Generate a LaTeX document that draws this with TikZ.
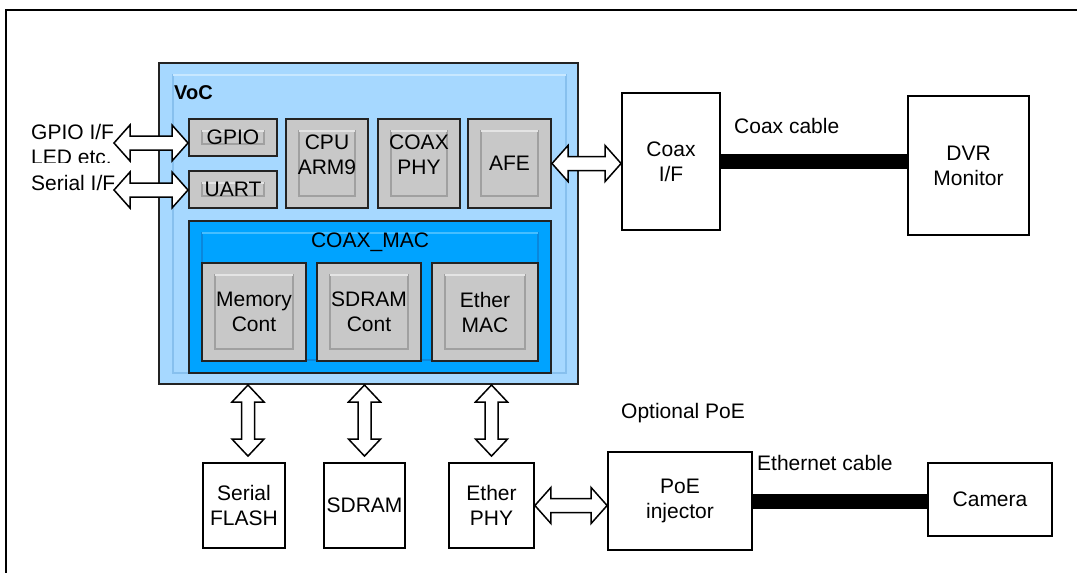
\documentclass[tikz,border=0pt]{standalone}
\usepackage{fontspec}
\setmainfont{Liberation Sans}
\usetikzlibrary{calc}
\definecolor{vocfill}{RGB}{166,216,255}
\definecolor{vocbev}{RGB}{135,192,238}
\definecolor{vochi}{RGB}{200,232,255}
\definecolor{macfill}{RGB}{0,163,255}
\definecolor{macbev}{RGB}{10,135,220}
\definecolor{machi}{RGB}{70,190,255}
\definecolor{gfill}{RGB}{200,200,200}
\definecolor{gbev}{RGB}{160,160,160}
\definecolor{ghi}{RGB}{228,228,228}
\definecolor{bord}{RGB}{35,35,35}
\newcommand\hdarrow[2]{\draw[blockarrow] let \p1=#1, \p2=#2 in
 (\x1,\y1) -- (\x1+16pt,\y1+18pt) -- (\x1+16pt,\y1+7pt) -- (\x2-16pt,\y1+7pt) -- (\x2-16pt,\y1+18pt) -- (\x2,\y1)
 -- (\x2-16pt,\y1-18pt) -- (\x2-16pt,\y1-7pt) -- (\x1+16pt,\y1-7pt) -- (\x1+16pt,\y1-18pt) -- cycle;}
\newcommand\vdarrow[2]{\draw[blockarrow] let \p1=#1, \p2=#2 in
 (\x1,\y1) -- (\x1+16pt,\y1-17pt) -- (\x1+6.5pt,\y1-17pt) -- (\x1+6.5pt,\y2+17pt) -- (\x1+16pt,\y2+17pt) -- (\x1,\y2)
 -- (\x1-16pt,\y2+17pt) -- (\x1-6.5pt,\y2+17pt) -- (\x1-6.5pt,\y1-17pt) -- (\x1-16pt,\y1-17pt) -- cycle;}
\begin{document}
\begin{tikzpicture}[x=1pt,y=-1pt,
  txt/.style={font=\fontsize{21}{25}\selectfont, align=center, inner sep=0pt},
  box/.style={txt, draw=black, line width=1.8, fill=white},
  gbox/.style={txt, draw=bord, line width=2, fill=gfill,
    path picture={
      \draw[gbev, line width=1.5] ([shift={(13pt,-12pt)}]path picture bounding box.north west) rectangle ([shift={(-13pt,12pt)}]path picture bounding box.south east);
      \draw[ghi, line width=1.5] ([shift={(13pt,-12pt)}]path picture bounding box.north west) -- ([shift={(-13pt,-12pt)}]path picture bounding box.north east);}},
  vocbox/.style={draw=bord, line width=2, fill=vocfill,
    path picture={
      \draw[vocbev, line width=1.5] ([shift={(14pt,-12pt)}]path picture bounding box.north west) rectangle ([shift={(-12pt,11pt)}]path picture bounding box.south east);
      \draw[vochi, line width=1.5] ([shift={(14pt,-12pt)}]path picture bounding box.north west) -- ([shift={(-12pt,-12pt)}]path picture bounding box.north east);}},
  macbox/.style={draw=bord, line width=2, fill=macfill,
    path picture={
      \draw[macbev, line width=1.5] ([shift={(13pt,-12pt)}]path picture bounding box.north west) rectangle ([shift={(-13pt,13pt)}]path picture bounding box.south east);
      \draw[machi, line width=1.5] ([shift={(13pt,-12pt)}]path picture bounding box.north west) -- ([shift={(-13pt,-12pt)}]path picture bounding box.north east);}},
  blockarrow/.style={draw=black, line width=1.5, fill=white, line join=miter},
  cable/.style={line width=15, draw=black},
  lbl/.style={txt, align=center}
]
\clip (0,0) rectangle (1077,573);
\draw[line width=2.5] (6,10) rectangle (1100,600);

% VoC chip
\node[vocbox, minimum width=419, minimum height=321] (voc) at (368.5,223.5) {};
\node[txt, font=\fontsize{20}{24}\selectfont\bfseries, anchor=west] (voclbl) at (174,93) {VoC};
\node[gbox, minimum width=88, minimum height=37] (gpio) at (233,137.5) {GPIO};
\node[gbox, minimum width=88, minimum height=37] (uart) at (233,189.5) {UART};
\node[gbox, minimum width=82, minimum height=89, label={[lbl, yshift=9]center:CPU\\ARM9}] (cpu) at (327,163.5) {};
\node[gbox, minimum width=82, minimum height=89, label={[lbl, yshift=9]center:COAX\\PHY}] (phy) at (419,163.5) {};
\node[gbox, minimum width=83, minimum height=89] (afe) at (509.5,163.5) {AFE};
\node[macbox, minimum width=362, minimum height=152] (mac) at (370,297) {};
\node[txt] (maclbl) at (370,242) {COAX\_MAC};
\node[gbox, minimum width=104, minimum height=98] (mem) at (254,312) {Memory\\Cont};
\node[gbox, minimum width=104, minimum height=98] (sdc) at (369,312) {SDRAM\\Cont};
\node[gbox, minimum width=106, minimum height=98] (emac) at (485,312) {Ether\\MAC};

% external blocks
\node[box, minimum width=98, minimum height=137] (coaxif) at (671,161.5) {Coax\\I/F};
\node[box, minimum width=121, minimum height=139] (dvr) at (968.5,165.5) {DVR\\Monitor};
\node[box, minimum width=82, minimum height=85] (flash) at (244,505.5) {Serial\\FLASH};
\node[box, minimum width=81, minimum height=85] (sdram) at (364.5,505.5) {SDRAM};
\node[box, minimum width=85, minimum height=85] (ephy) at (491.5,505.5) {Ether\\PHY};
\node[box, minimum width=144, minimum height=98] (poe) at (680,501) {PoE\\injector};
\node[box, minimum width=124, minimum height=73] (cam) at (990,499.5) {Camera};

% labels
\node[txt, anchor=west] (gpiolbl) at (31,132) {GPIO I/F};
\begin{scope}
  \clip (0,0) rectangle (200,162);
  \node[txt, anchor=west] (ledlbl) at (31,157) {LED etc.};
\end{scope}
\node[txt, anchor=west] (serlbl) at (31,183) {Serial I/F};
\node[txt, anchor=west] (coaxlbl) at (734,126) {Coax cable};
\node[txt, anchor=west] (ethlbl) at (757,463) {Ethernet cable};
\node[txt, anchor=west] (poelbl) at (621,413) {Optional PoE};

% cables
\draw[cable] (coaxif.east) -- (coaxif.east -| dvr.west);
\draw[cable] (poe.east) -- (poe.east -| cam.west);

% block arrows
\coordinate (gpioL) at (114,143);
\coordinate (uartL) at (114,190);
\hdarrow{(gpioL)}{(gpioL -| gpio.west)}
\hdarrow{(uartL)}{(uartL -| uart.west)}
\hdarrow{(afe.east)}{(afe.east -| coaxif.west)}
\hdarrow{(ephy.east)}{(ephy.east -| poe.west)}
\coordinate (f1) at ([xshift=4pt]flash.north);
\vdarrow{(f1 |- voc.south)}{([yshift=6pt]f1)}
\vdarrow{(sdram.north |- voc.south)}{([yshift=6pt]sdram.north)}
\vdarrow{(ephy.north |- voc.south)}{([yshift=6pt]ephy.north)}
\end{tikzpicture}
\end{document}
